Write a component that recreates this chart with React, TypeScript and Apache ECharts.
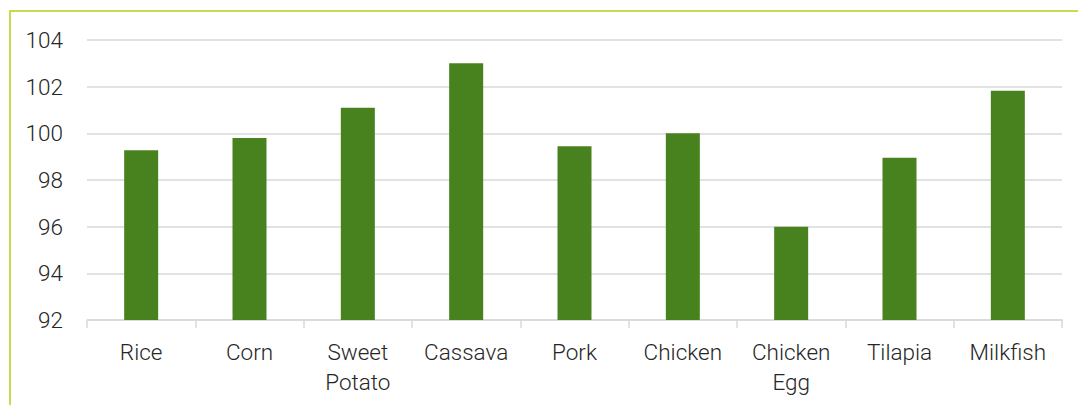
import React, { useEffect, useRef } from "react";
import * as echarts from "echarts";

const categories = ["Rice", "Corn", "Sweet\nPotato", "Cassava", "Pork", "Chicken", "Chicken\nEgg", "Tilapia", "Milkfish"];
const values = [99.27, 99.8, 101.1, 103.0, 99.45, 100.0, 96.0, 98.95, 101.83];
const yMin = 92;
const yMax = 104;
const yStep = 2;

export default function App() {
  const ref = useRef<HTMLDivElement>(null);
  useEffect(() => {
    if (!ref.current) return;
    const chart = echarts.init(ref.current, null, { renderer: "svg" });
    const font = "Roboto, 'Noto Sans', sans-serif";
    chart.setOption({
      animation: false,
      backgroundColor: "#ffffff",
      grid: { left: 87, right: 16, top: 40, bottom: 85, containLabel: false },
      graphic: [
        { type: "line", shape: { x1: 9.5, y1: 11, x2: 1078, y2: 11 }, style: { stroke: "#c8da4e", lineWidth: 2 } },
        { type: "line", shape: { x1: 10, y1: 10, x2: 10, y2: 405 }, style: { stroke: "#c8da4e", lineWidth: 2 } },
      ],
      xAxis: {
        type: "category",
        data: categories,
        axisLine: { show: true, lineStyle: { color: "#d9d9d9", width: 1.5 } },
        axisTick: { show: true, length: 8, lineStyle: { color: "#d9d9d9", width: 1.5 } },
        axisLabel: { color: "#262626", fontFamily: font, fontWeight: 300, fontSize: 22.5, lineHeight: 30, margin: 17, interval: 0 },
      },
      yAxis: {
        type: "value",
        min: yMin,
        max: yMax,
        interval: yStep,
        axisLine: { show: false },
        axisTick: { show: false },
        splitLine: { show: true, lineStyle: { color: "#d9d9d9", width: 1.5 } },
        axisLabel: { color: "#262626", fontFamily: font, fontWeight: 300, fontSize: 22.5, margin: 24 },
      },
      series: [
        {
          type: "bar",
          data: values,
          barWidth: 34,
          itemStyle: { color: "#48821e" },
        },
      ],
    });
    return () => chart.dispose();
  }, []);
  return <div ref={ref} style={{ position: "fixed", left: 0, top: 0, width: 1078, height: 405 }} />;
}
